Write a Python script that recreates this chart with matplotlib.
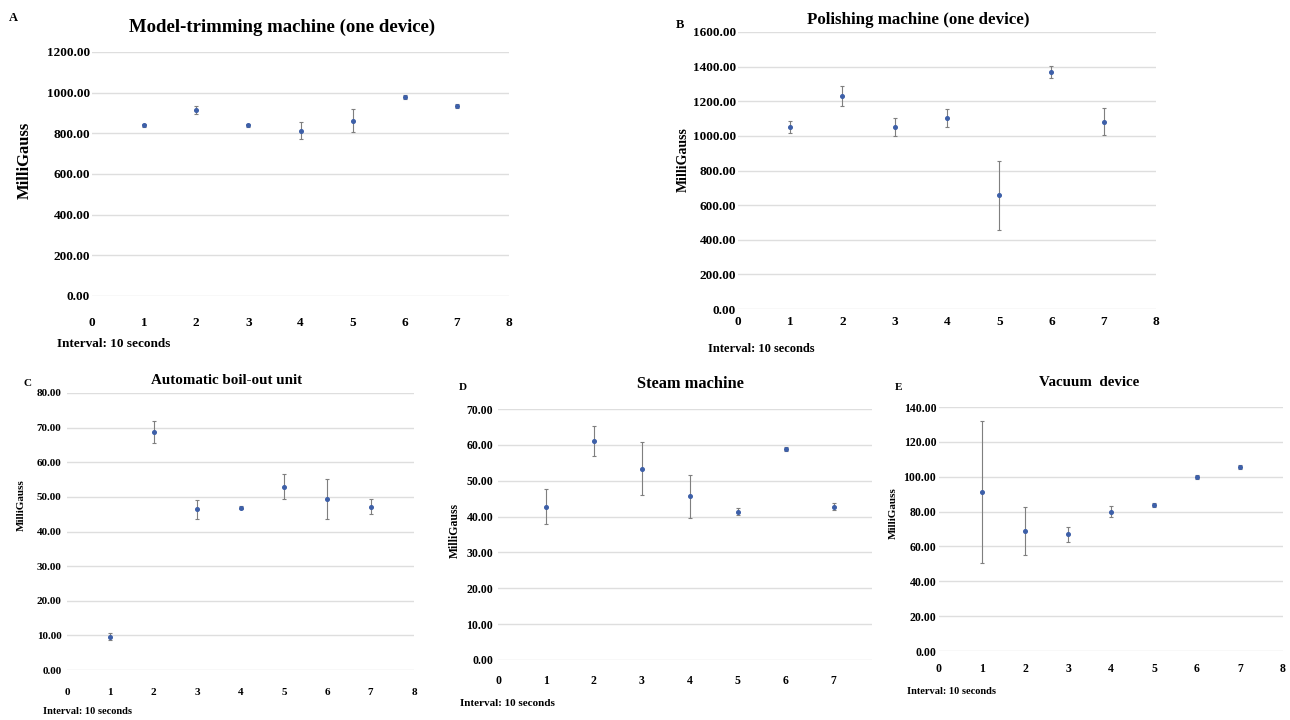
import numpy as np
import matplotlib.pyplot as plt

plt.rcParams['font.family'] = ['Liberation Serif', 'DejaVu Serif']
plt.rcParams['font.weight'] = 'bold'

W, H = 1290, 720

# ---------------------------------------------------------------
# data (mean +/- error, MilliGauss), x = interval index
# ---------------------------------------------------------------
intervals = [1, 2, 3, 4, 5, 6, 7]

trim_mean = [839, 915, 839, 813, 862, 979, 934]
trim_err = [8, 20, 8, 41, 56, 8, 10]

polish_mean = [1050, 1229, 1054, 1104, 656, 1371, 1083]
polish_err = [36, 59, 52, 52, 200, 35, 78]

boil_mean = [9.6, 68.7, 46.4, 46.9, 52.9, 49.3, 47.2]
boil_err = [1.0, 3.2, 2.7, 0.5, 3.6, 5.8, 2.2]

steam_mean = [42.8, 61.1, 53.4, 45.6, 41.4, 58.8, 42.8]
steam_err = [4.9, 4.1, 7.3, 6.0, 1.0, 0.5, 1.1]

vac_mean = [91.3, 68.8, 67.0, 79.8, 83.7, 99.9, 105.6]
vac_err = [40.6, 13.8, 4.2, 3.2, 1.0, 1.0, 1.0]


def box(l, t, r, b):
    # pixel box (top-left origin) -> figure fraction rect
    return [l / W, 1 - b / H, (r - l) / W, (b - t) / H]


def fx(x, y):
    return x / W, 1 - y / H


fig = plt.figure(figsize=(W / 100, H / 100), dpi=100)


def panel(rect, mean, err, ymax, ystep, xmax, xticks, tick_fs, xpad, ypad):
    ax = fig.add_axes(rect)
    ax.errorbar(intervals, mean, yerr=err, fmt='o', ms=2.6, color='#3d5fa8',
                ecolor='#7f7f7f', elinewidth=0.8, capsize=1.5, capthick=0.8)
    ax.set_xlim(0, xmax)
    ax.set_ylim(0, ymax)
    ax.set_xticks(xticks)
    ax.set_yticks(np.arange(0, ymax + ystep / 2, ystep))
    ax.yaxis.set_major_formatter(plt.FormatStrFormatter('%.2f'))
    ax.grid(axis='y', color='#dedede', linewidth=1.0)
    ax.set_axisbelow(True)
    for s in ax.spines.values():
        s.set_visible(False)
    ax.tick_params(length=0, labelsize=tick_fs)
    ax.tick_params(axis='x', pad=xpad)
    ax.tick_params(axis='y', pad=ypad)
    for lab in ax.get_xticklabels() + ax.get_yticklabels():
        lab.set_fontweight('bold')
    ax.patch.set_alpha(0)
    return ax


# A
panel(box(92, 52, 509, 296), trim_mean, trim_err, 1200, 200, 8, range(9), 9.5, 15, 1.5)
fig.text(*fx(282, 27), 'Model-trimming machine (one device)', ha='center', va='center',
         fontsize=13.5, fontweight='bold')
fig.text(*fx(13, 18), 'A', ha='center', va='center', fontsize=9, fontweight='bold')
fig.text(*fx(25, 160), 'MilliGauss', rotation=90, ha='center', va='center',
         fontsize=12, fontweight='bold')
fig.text(*fx(57, 344), 'Interval: 10 seconds', ha='left', va='center',
         fontsize=9.5, fontweight='bold')

# B
panel(box(738, 32, 1156, 309), polish_mean, polish_err, 1600, 200, 8, range(9), 9.5, 5, 1.5)
fig.text(*fx(918, 20), 'Polishing machine (one device)', ha='center', va='center',
         fontsize=12.2, fontweight='bold')
fig.text(*fx(680, 25), 'B', ha='center', va='center', fontsize=9, fontweight='bold')
fig.text(*fx(683, 160), 'MilliGauss', rotation=90, ha='center', va='center',
         fontsize=10, fontweight='bold')
fig.text(*fx(708, 349), 'Interval: 10 seconds', ha='left', va='center',
         fontsize=9, fontweight='bold')

# C
panel(box(67, 393, 414, 670), boil_mean, boil_err, 80, 10, 8, range(9), 8, 13, 4)
fig.text(*fx(227, 380), 'Automatic boil-out unit', ha='center', va='center',
         fontsize=10.8, fontweight='bold')
fig.text(*fx(28, 383), 'C', ha='center', va='center', fontsize=8, fontweight='bold')
fig.text(*fx(21, 505), 'MilliGauss', rotation=90, ha='center', va='center',
         fontsize=8, fontweight='bold')
fig.text(*fx(43, 712), 'Interval: 10 seconds', ha='left', va='center',
         fontsize=7.5, fontweight='bold')

# D
panel(box(498, 409, 872, 660), steam_mean, steam_err, 70, 10, 7.8, range(8), 8.5, 11, 3.5)
fig.text(*fx(690, 384), 'Steam machine', ha='center', va='center',
         fontsize=11.8, fontweight='bold')
fig.text(*fx(463, 387), 'D', ha='center', va='center', fontsize=8, fontweight='bold')
fig.text(*fx(455, 530), 'MilliGauss', rotation=90, ha='center', va='center',
         fontsize=8.5, fontweight='bold')
fig.text(*fx(460, 703), 'Interval: 10 seconds', ha='left', va='center',
         fontsize=8, fontweight='bold')

# E
panel(box(939, 407, 1283, 651), vac_mean, vac_err, 140, 20, 8, range(9), 8.5, 9, 2)
fig.text(*fx(1089, 383), 'Vacuum  device', ha='center', va='center',
         fontsize=10.8, fontweight='bold')
fig.text(*fx(899, 387), 'E', ha='center', va='center', fontsize=8, fontweight='bold')
fig.text(*fx(893, 513), 'MilliGauss', rotation=90, ha='center', va='center',
         fontsize=8, fontweight='bold')
fig.text(*fx(907, 692), 'Interval: 10 seconds', ha='left', va='center',
         fontsize=7.5, fontweight='bold')

fig.savefig('out.png', dpi=100)
